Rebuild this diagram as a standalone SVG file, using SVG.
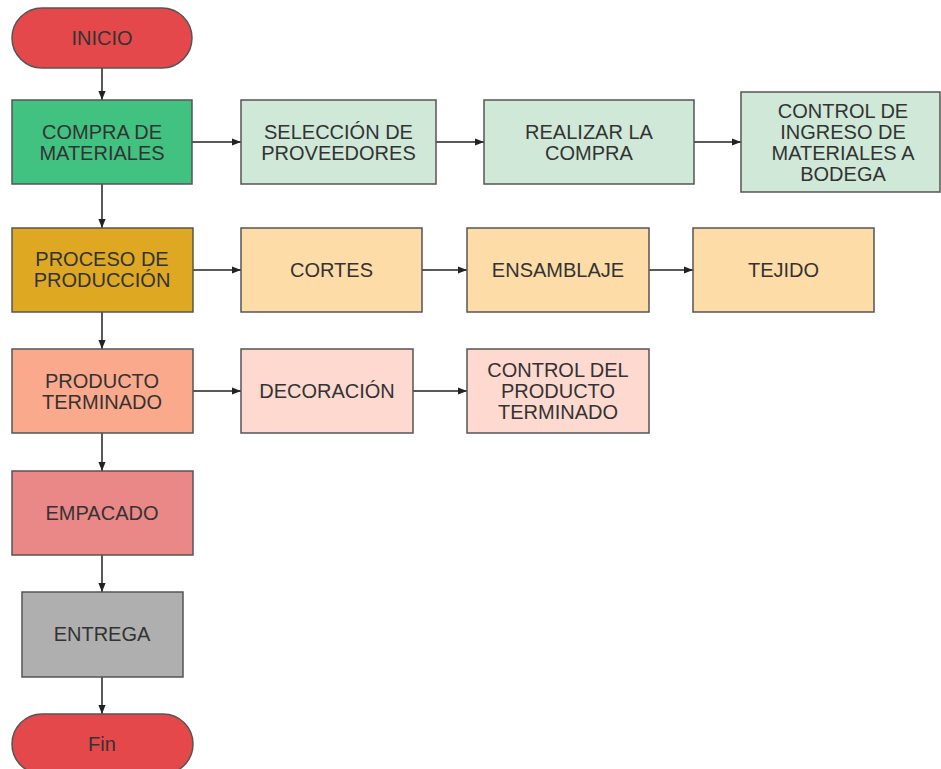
<svg xmlns="http://www.w3.org/2000/svg" width="941" height="769" viewBox="0 0 941 769">
<defs>
<style>
.n{stroke:#555;stroke-width:1.5}
.t{font-family:"Liberation Sans",Arial,sans-serif;font-size:20px;fill:#333;text-anchor:middle}
.c{fill:none;stroke:#222;stroke-width:1.5}
</style>
<marker id="ah" viewBox="0 0 10 10" refX="10" refY="5" markerWidth="9" markerHeight="9" orient="auto" markerUnits="userSpaceOnUse">
<path d="M0,1 L10,5 L0,9 z" fill="#222"/>
</marker>
</defs>
<rect width="941" height="769" fill="#fff"/>
<g id="connectors">
<line class="c" x1="102" y1="68" x2="102" y2="100" marker-end="url(#ah)"/>
<line class="c" x1="102" y1="184" x2="102" y2="228" marker-end="url(#ah)"/>
<line class="c" x1="102" y1="312" x2="102" y2="349" marker-end="url(#ah)"/>
<line class="c" x1="102" y1="433" x2="102" y2="471" marker-end="url(#ah)"/>
<line class="c" x1="102" y1="555" x2="102" y2="592" marker-end="url(#ah)"/>
<line class="c" x1="102" y1="677" x2="102" y2="714" marker-end="url(#ah)"/>
<line class="c" x1="192" y1="142" x2="241" y2="142" marker-end="url(#ah)"/>
<line class="c" x1="436" y1="142" x2="484" y2="142" marker-end="url(#ah)"/>
<line class="c" x1="694" y1="142" x2="741" y2="142" marker-end="url(#ah)"/>
<line class="c" x1="193" y1="270" x2="241" y2="270" marker-end="url(#ah)"/>
<line class="c" x1="422" y1="270" x2="467" y2="270" marker-end="url(#ah)"/>
<line class="c" x1="649" y1="270" x2="693" y2="270" marker-end="url(#ah)"/>
<line class="c" x1="193" y1="391" x2="241" y2="391" marker-end="url(#ah)"/>
<line class="c" x1="413" y1="391" x2="467" y2="391" marker-end="url(#ah)"/>
</g>
<g id="inicio">
<rect class="n" x="12" y="8" width="180" height="60" rx="30" fill="#E5484B"/>
<text class="t" x="102" y="45">INICIO</text>
</g>
<g id="compra">
<rect class="n" x="12" y="100" width="180" height="84" fill="#41C280"/>
<text class="t" x="102" y="139">COMPRA DE</text>
<text class="t" x="102" y="160">MATERIALES</text>
</g>
<g id="seleccion">
<rect class="n" x="241" y="100" width="195" height="84" fill="#CFE8D8"/>
<text class="t" x="338.5" y="139">SELECCIÓN DE</text>
<text class="t" x="338.5" y="160">PROVEEDORES</text>
</g>
<g id="realizar">
<rect class="n" x="484" y="100" width="210" height="84" fill="#CFE8D8"/>
<text class="t" x="589" y="139">REALIZAR LA</text>
<text class="t" x="589" y="160">COMPRA</text>
</g>
<g id="control-ingreso">
<rect class="n" x="741" y="92" width="199" height="100" fill="#CFE8D8"/>
<text class="t" x="843" y="118">CONTROL DE</text>
<text class="t" x="843" y="139">INGRESO DE</text>
<text class="t" x="843" y="160">MATERIALES A</text>
<text class="t" x="843" y="181">BODEGA</text>
</g>
<g id="proceso">
<rect class="n" x="12" y="228" width="181" height="84" fill="#DEA823"/>
<text class="t" x="102" y="266">PROCESO DE</text>
<text class="t" x="102" y="287">PRODUCCIÓN</text>
</g>
<g id="cortes">
<rect class="n" x="241" y="228" width="181" height="84" fill="#FDDCA8"/>
<text class="t" x="331.5" y="277">CORTES</text>
</g>
<g id="ensamblaje">
<rect class="n" x="467" y="228" width="182" height="84" fill="#FDDCA8"/>
<text class="t" x="558" y="277">ENSAMBLAJE</text>
</g>
<g id="tejido">
<rect class="n" x="693" y="228" width="181" height="84" fill="#FDDCA8"/>
<text class="t" x="783.5" y="277">TEJIDO</text>
</g>
<g id="producto-terminado">
<rect class="n" x="12" y="349" width="181" height="84" fill="#FBA98C"/>
<text class="t" x="102" y="387.5">PRODUCTO</text>
<text class="t" x="102" y="408.5">TERMINADO</text>
</g>
<g id="decoracion">
<rect class="n" x="241" y="349" width="172" height="84" fill="#FDD9CF"/>
<text class="t" x="327" y="398">DECORACIÓN</text>
</g>
<g id="control-producto">
<rect class="n" x="467" y="349" width="182" height="84" fill="#FDD9CF"/>
<text class="t" x="558" y="377">CONTROL DEL</text>
<text class="t" x="558" y="398">PRODUCTO</text>
<text class="t" x="558" y="419">TERMINADO</text>
</g>
<g id="empacado">
<rect class="n" x="12" y="471" width="181" height="84" fill="#EA8787"/>
<text class="t" x="102" y="520">EMPACADO</text>
</g>
<g id="entrega">
<rect class="n" x="22" y="592" width="161" height="85" fill="#AFAFAF"/>
<text class="t" x="102" y="641">ENTREGA</text>
</g>
<g id="fin">
<rect class="n" x="12" y="714" width="181" height="60" rx="30" fill="#E5484B"/>
<text class="t" x="102" y="751">Fin</text>
</g>
</svg>
